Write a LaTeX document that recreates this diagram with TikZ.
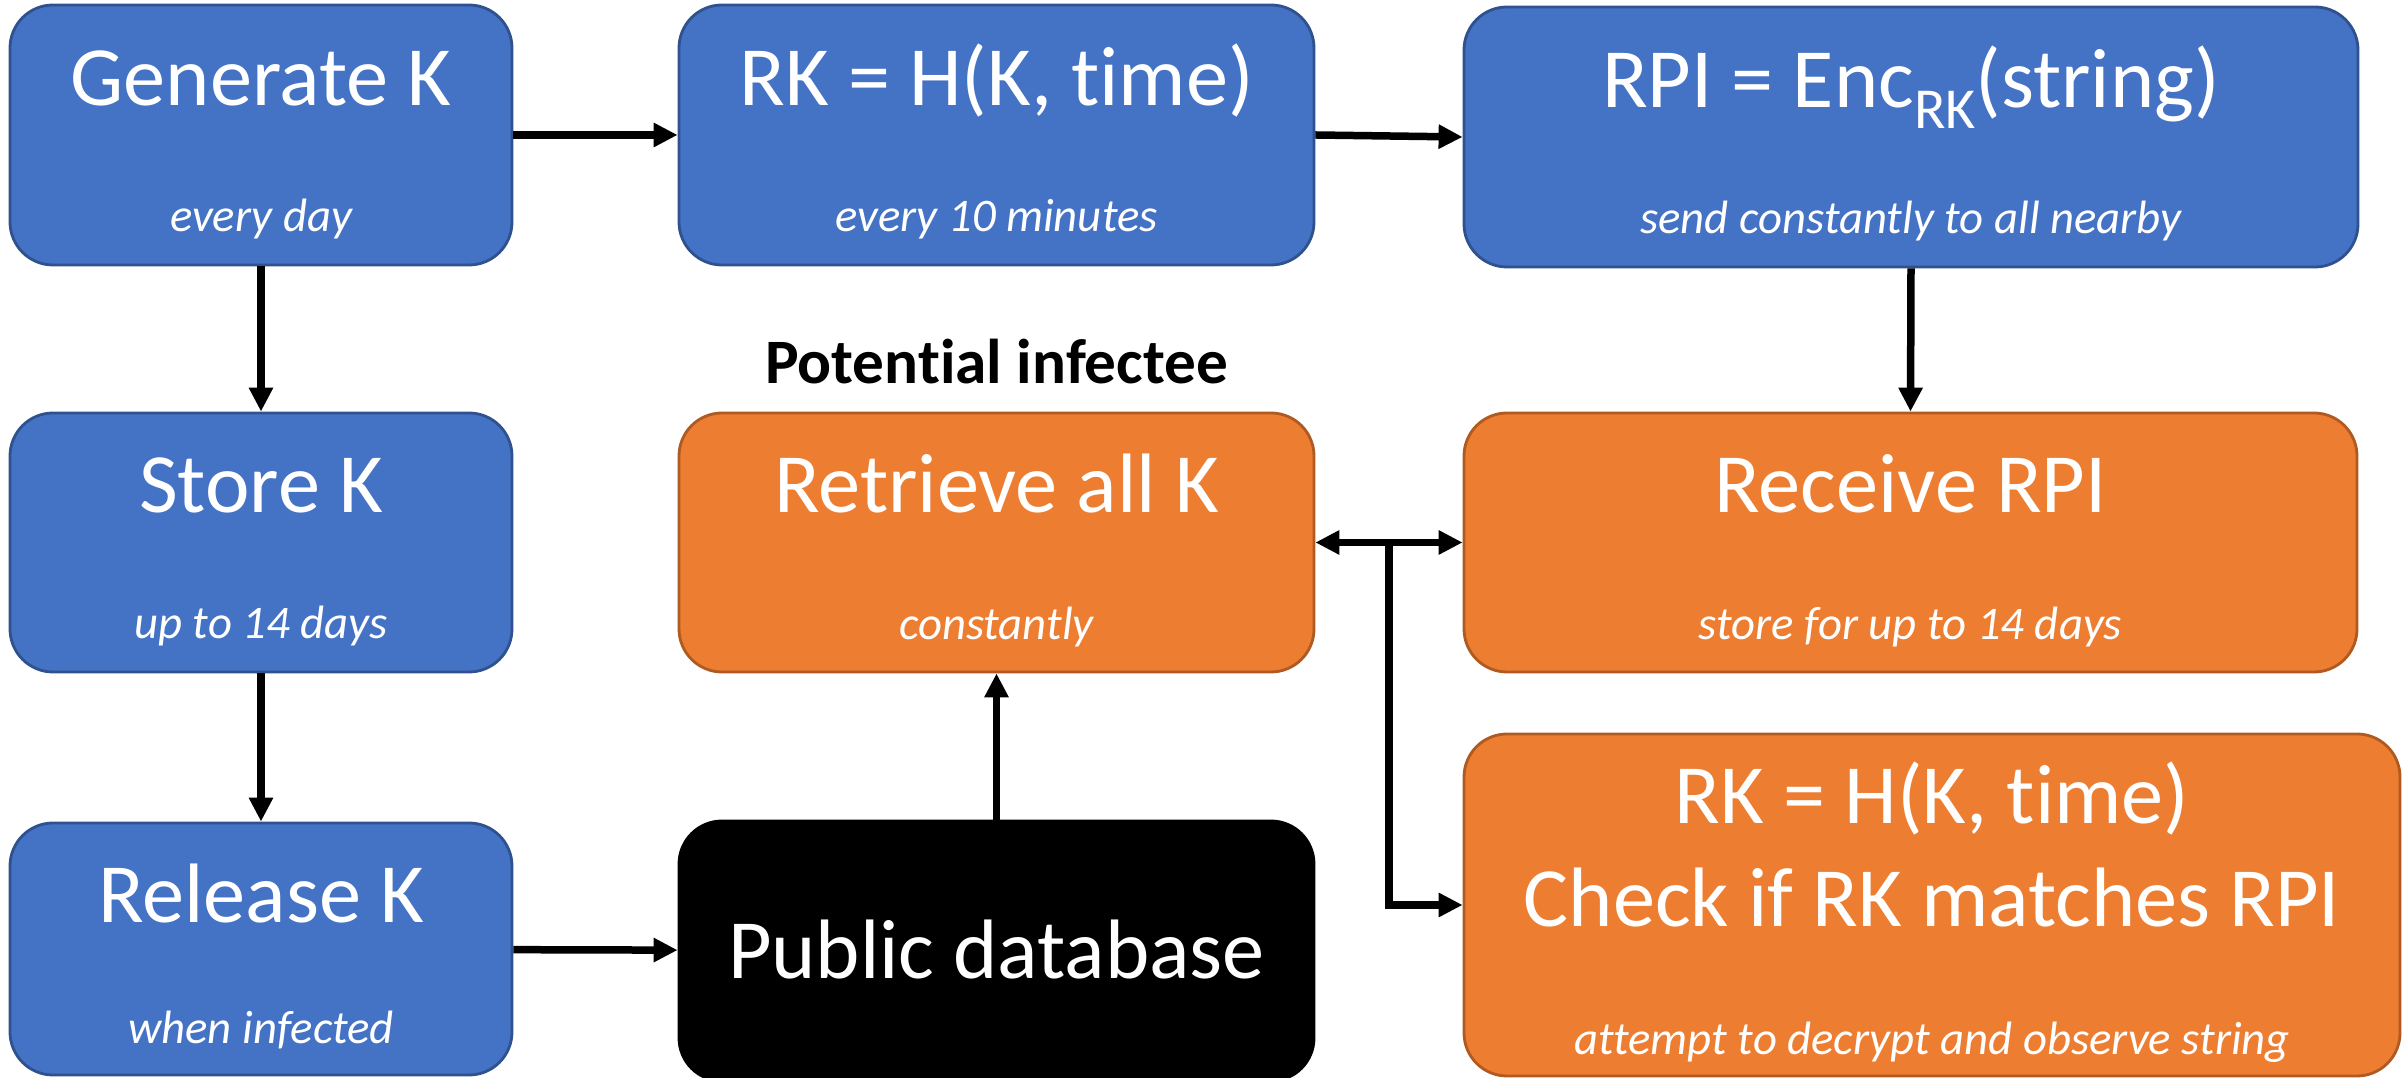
\documentclass[tikz,border=0pt]{standalone}
\usepackage{fontspec}
\setmainfont{Carlito}[RawFeature={-liga}]
\usetikzlibrary{arrows.meta,calc}

\definecolor{sendfill}{HTML}{4472C4}
\definecolor{senddraw}{HTML}{2F528F}
\definecolor{recvfill}{HTML}{ED7D31}
\definecolor{recvdraw}{HTML}{AE5A21}
\tikzset{
  box/.style={rectangle,rounded corners=0.43cm,line width=0.8pt,inner sep=0pt},
  sender/.style={box,fill=sendfill,draw=senddraw},
  receiver/.style={box,fill=recvfill,draw=recvdraw},
  database/.style={box,fill=black,draw=black},
  title/.style={anchor=base,text=white,font=\fontsize{24}{29}\selectfont},
  note/.style={anchor=base,text=white,font=\fontsize{13.3}{16}\selectfont\itshape},
  flow/.style={->,line width=0.075cm},
  >={Triangle[length=0.24cm,width=0.23cm]},
}

\begin{document}
\begin{tikzpicture}
    \useasboundingbox (0,0) rectangle (24.04,-10.78);

    % sender side
    \node [sender,minimum width=5.02cm,minimum height=2.6cm] (gen) at (2.61,-1.35) {};
    \node [sender,minimum width=6.35cm,minimum height=2.6cm] (rk) at (9.965,-1.35) {};
    \node [sender,minimum width=8.94cm,minimum height=2.6cm] (rpi) at (19.11,-1.37) {};
    \node [sender,minimum width=5.02cm,minimum height=2.59cm] (store) at (2.61,-5.425) {};
    \node [sender,minimum width=5.02cm,minimum height=2.52cm] (release) at (2.61,-9.49) {};

    % database
    \node [database,minimum width=6.35cm,minimum height=2.6cm] (public) at (9.965,-9.51) {};

    % potential infectee
    \node [receiver,minimum width=6.35cm,minimum height=2.59cm] (retrieve) at (9.965,-5.425) {};
    \node [receiver,minimum width=8.93cm,minimum height=2.59cm] (receive) at (19.105,-5.425) {};
    \node [receiver,minimum width=9.36cm,minimum height=3.42cm] (check) at (19.32,-9.05) {};

    \node [title] (genT) at ([yshift=-1.02cm]gen.north) {Generate K};
    \node [note] (genN) at ([yshift=0.35cm]gen.south) {every day};
    \node [title] (rkT) at ([yshift=-1.02cm]rk.north) {RK = H(K, time)};
    \node [note] (rkN) at ([yshift=0.35cm]rk.south) {every 10 minutes};
    \node [title] (rpiT) at ([yshift=-1.02cm]rpi.north)
      {RPI = Enc\raisebox{-6pt}{\fontsize{16.5}{16}\selectfont RK}(string)};
    \node [note] (rpiN) at ([yshift=0.35cm]rpi.south) {send constantly to all nearby};
    \node [title] (storeT) at ([yshift=-1.01cm]store.north) {Store K};
    \node [note] (storeN) at ([yshift=0.35cm]store.south) {up to 14 days};
    \node [title] (releaseT) at ([yshift=-1.01cm]release.north) {Release K};
    \node [note] (releaseN) at ([yshift=0.33cm]release.south) {when infected};
    \node [title] (publicT) at ([yshift=-1.59cm]public.north) {Public database};
    \node [title] (retrieveT) at ([yshift=-1.01cm]retrieve.north) {Retrieve all K};
    \node [note] (retrieveN) at ([yshift=0.34cm]retrieve.south) {constantly};
    \node [title] (receiveT) at ([yshift=-1.01cm]receive.north) {Receive RPI};
    \node [note] (receiveN) at ([yshift=0.34cm]receive.south) {store for up to 14 days};
    \node [title] (checkA) at ([yshift=-0.91cm]check.north) {RK = H(K, time)};
    \node [title] (checkB) at ([yshift=-1.94cm]check.north) {Check if RK matches RPI};
    \node [note] (checkN) at ([yshift=0.23cm]check.south) {attempt to decrypt and observe string};

    \node [anchor=base,font=\fontsize{18}{22}\selectfont\bfseries] (infectee)
      at ([yshift=0.28cm]retrieve.north) {Potential infectee};

    \draw [flow] (gen) -- (rk);
    \draw [flow] (rk.east) -- (rpi.west);
    \draw [flow] (gen) -- (store);
    \draw [flow] (store) -- (release);
    \draw [flow] (release) -- (public);
    \draw [flow] (public) -- (retrieve);
    \draw [flow] (rpi.south) -- (receive.north);
    \draw [flow,<->] (retrieve) -- (receive);
    \coordinate (split) at ($(retrieve.east)!0.5!(receive.west)$);
    \draw [flow] (split) |- (check.west);
\end{tikzpicture}
\end{document}
